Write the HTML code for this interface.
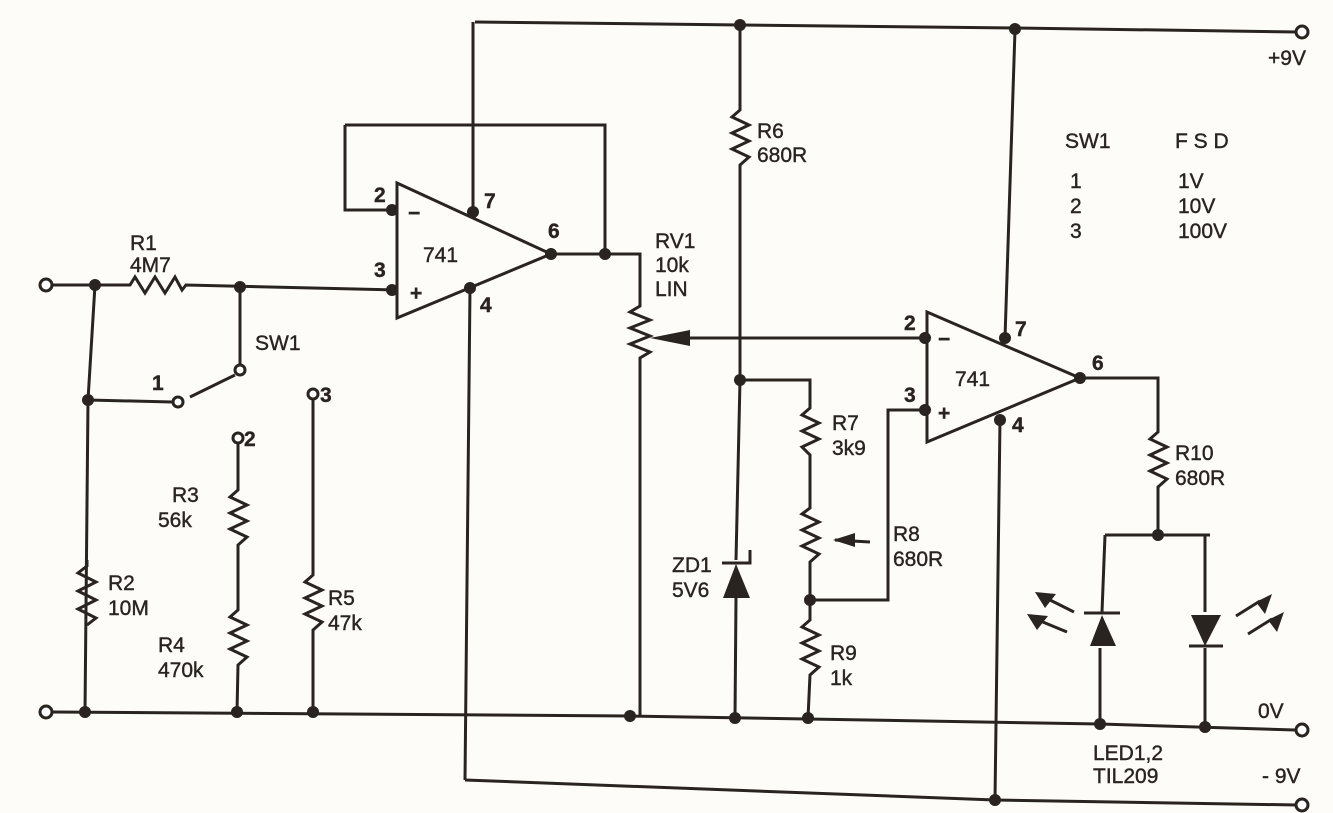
<!DOCTYPE html>
<html><head><meta charset="utf-8"><style>
html,body{margin:0;padding:0;background:#fdfcf8;}
svg{display:block;}
text{font-family:"Liberation Sans",sans-serif;font-size:21px;fill:#2a2420;stroke:#2a2420;stroke-width:0.4px;}
.b{font-weight:bold;}
</style></head><body>
<svg width="1333" height="813" viewBox="0 0 1333 813" xmlns="http://www.w3.org/2000/svg">
<g stroke="#2a2420" stroke-width="3" fill="none" stroke-linejoin="miter">
<path d="M475 22 L1015 28 L1298 32"/>
<path d="M52 285 L95 285"/>
<path d="M52 712 L630 716 L1100 724 L1295 730"/>
<path d="M465 780 L995 800 L1297 805"/>
<path d="M397 183 L551 254 L397 318 Z"/>
<path d="M345 125 L605 125 L605 254"/>
<path d="M345 125 L345 210 L397 210"/>
<path d="M473 22 L473 212"/>
<path d="M470 288 L465 780"/>
<path d="M551 254 L640 254 L640 300"/>
<path d="M640 300 L640 306 L630 312 L650 320 L630 328 L650 336 L630 344 L650 352 L640 358 L640 716"/>
<path d="M688 338 L925 338"/>
<path d="M95 285 L130 285 L135 277 L145 293 L155 277 L165 293 L175 277 L182 290 L186 285 L397 290"/>
<path d="M240 287 L240 365"/>
<path d="M95 285 L88 400 L85 712"/>
<path d="M88 400 L172 402"/>
<path d="M235 375 L190 397"/>
<path d="M87 560 L87 566 L78 573 L96 582 L78 591 L96 600 L78 609 L96 618 L87 625"/>
<path d="M238 443 L238 490 L230 497 L247 505 L230 513 L247 521 L230 529 L247 537 L238 545 L238 610 L230 617 L247 625 L230 633 L247 641 L230 649 L247 657 L238 665 L237 712"/>
<path d="M313 399 L313 575 L305 582 L322 590 L305 598 L322 606 L305 614 L322 622 L313 630 L313 712"/>
<path d="M740 25 L740 110 L732 117 L749 125 L732 133 L749 141 L732 149 L749 157 L740 165 L740 380 L736 560"/>
<path d="M736 597 L735 718"/>
<path d="M722 563 L750 563 L750 550"/>
<path d="M740 380 L810 380 L810 408 L802 415 L819 423 L802 431 L819 439 L802 447 L810 455 L810 508 L802 514 L819 522 L802 530 L819 538 L802 546 L819 554 L810 562 L810 620 L802 627 L819 635 L802 643 L819 651 L802 659 L819 667 L810 675 L808 718"/>
<path d="M810 600 L888 600 L888 410 L925 410"/>
<path d="M870 542 L835 540"/>
<path d="M927 312 L1080 378 L927 442 Z"/>
<path d="M1015 30 L1005 338"/>
<path d="M1000 420 L995 800"/>
<path d="M1080 378 L1158 378 L1158 432 L1150 439 L1167 447 L1150 455 L1167 463 L1150 471 L1167 479 L1158 487 L1158 535"/>
<path d="M1105 535 L1210 535"/>
<path d="M1105 535 L1102 612"/><path d="M1100 648 L1100 724"/>
<path d="M1205 535 L1205 612"/><path d="M1205 648 L1205 727"/>
<path d="M1084 613 L1120 613"/><path d="M1189 646 L1223 646"/>
<path d="M1074 612 L1046 598"/><path d="M1067 632 L1038 620"/>
<path d="M1236 616 L1260 601"/><path d="M1248 634 L1272 619"/>
</g>
<g fill="#2a2420">
<polygon points="1102,615 1090,646 1116,646"/>
<polygon points="1205,646 1191,615 1221,615"/>
<polygon points="736,564 723,598 750,598"/>
<polygon points="650,338 690,330 690,346"/>
<polygon points="833,540 855,533 855,547"/>
<polygon points="1035,592 1056,594 1045,608"/><polygon points="1027,614 1048,616 1037,630"/>
<polygon points="1272,594 1256,602 1265,614"/><polygon points="1284,612 1268,620 1277,632"/>
<circle cx="740" cy="25" r="6"/><circle cx="1015" cy="29" r="6"/>
<circle cx="95" cy="285" r="6"/><circle cx="240" cy="287" r="6"/>
<circle cx="88" cy="400" r="6"/><circle cx="392" cy="210" r="6"/><circle cx="392" cy="290" r="6"/>
<circle cx="473" cy="212" r="6"/><circle cx="470" cy="288" r="6"/><circle cx="551" cy="254" r="6"/><circle cx="605" cy="254" r="6"/>
<circle cx="85" cy="712" r="6"/><circle cx="237" cy="712" r="6"/><circle cx="313" cy="712" r="6"/>
<circle cx="630" cy="716" r="6"/><circle cx="735" cy="718" r="6"/><circle cx="808" cy="718" r="6"/>
<circle cx="1100" cy="724" r="6"/><circle cx="1205" cy="727" r="6"/>
<circle cx="740" cy="380" r="6"/><circle cx="810" cy="600" r="6"/>
<circle cx="925" cy="338" r="6"/><circle cx="925" cy="410" r="6"/>
<circle cx="1005" cy="338" r="6"/><circle cx="1000" cy="420" r="6"/><circle cx="1080" cy="378" r="6"/>
<circle cx="1158" cy="535" r="6"/><circle cx="995" cy="800" r="6"/>
</g>
<g fill="#fff" stroke="#2a2420" stroke-width="3">
<circle cx="46" cy="285" r="6"/><circle cx="46" cy="712" r="6"/>
<circle cx="240" cy="370" r="5"/><circle cx="178" cy="402" r="5"/>
<circle cx="238" cy="438" r="5"/><circle cx="313" cy="394" r="5"/>
<circle cx="1302" cy="32" r="6"/><circle cx="1302" cy="730" r="6"/><circle cx="1302" cy="805" r="6"/>
</g>
<g>
<text x="1268" y="65">+9V</text>
<text x="1258" y="718">0V</text>
<text x="1262" y="783">- 9V</text>
<text x="1093" y="760">LED1,2</text>
<text x="1093" y="783">TIL209</text>
<text x="1065" y="148">SW1</text><text x="1175" y="148">F S D</text>
<text x="1070" y="188">1</text><text x="1178" y="188">1V</text>
<text x="1070" y="213">2</text><text x="1178" y="213">10V</text>
<text x="1070" y="238">3</text><text x="1178" y="238">100V</text>
<text x="130" y="250">R1</text><text x="130" y="272">4M7</text>
<text x="255" y="350">SW1</text>
<text class="b" x="152" y="390">1</text><text class="b" x="244" y="446">2</text><text class="b" x="320" y="402">3</text>
<text x="172" y="502">R3</text><text x="158" y="527">56k</text>
<text x="158" y="652">R4</text><text x="158" y="677">470k</text>
<text x="108" y="590">R2</text><text x="108" y="615">10M</text>
<text x="328" y="605">R5</text><text x="328" y="630">47k</text>
<text class="b" x="374" y="202">2</text><text class="b" x="374" y="277">3</text>
<text class="b" x="484" y="208">7</text><text class="b" x="480" y="312">4</text>
<text class="b" x="548" y="238">6</text>
<text class="b" x="408" y="220" font-size="24">−</text><text class="b" x="410" y="300" font-size="24">+</text>
<text x="423" y="262">741</text>
<text x="655" y="248">RV1</text><text x="655" y="272">10k</text><text x="655" y="296">LIN</text>
<text x="757" y="138">R6</text><text x="757" y="162">680R</text>
<text x="672" y="572">ZD1</text><text x="672" y="597">5V6</text>
<text x="832" y="430">R7</text><text x="832" y="455">3k9</text>
<text x="893" y="541">R8</text><text x="893" y="566">680R</text>
<text x="830" y="660">R9</text><text x="830" y="685">1k</text>
<text class="b" x="904" y="330">2</text><text class="b" x="904" y="402">3</text>
<text class="b" x="1015" y="336">7</text><text class="b" x="1012" y="432">4</text>
<text class="b" x="1092" y="370">6</text>
<text class="b" x="938" y="346" font-size="24">−</text><text class="b" x="938" y="420" font-size="24">+</text>
<text x="955" y="386">741</text>
<text x="1175" y="460">R10</text><text x="1175" y="485">680R</text>
</g>
</svg>
</body></html>
